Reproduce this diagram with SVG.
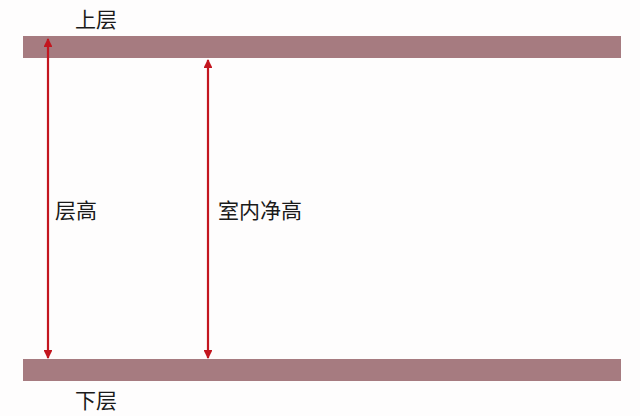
<svg xmlns="http://www.w3.org/2000/svg" width="640" height="416" viewBox="0 0 640 416">
<defs>
<style>
.slab{fill:#a67b80}
.lbl{font-family:"Liberation Sans","Noto Sans CJK SC",sans-serif;font-size:21px;fill:#1a1a1a}
.dim{stroke:#c3161f;stroke-width:2.2;fill:none}
</style>
<marker id="ah" viewBox="0 0 10 10" refX="9" refY="5" markerWidth="4" markerHeight="4" orient="auto-start-reverse">
<path d="M0,0 L10,5 L0,10 z" fill="#c3161f"/>
</marker>
</defs>
<rect width="640" height="416" fill="#fefdfd"/>
<g id="upper">
<rect class="slab" x="23" y="36" width="598" height="22"/>
<text class="lbl" x="75" y="27">上层</text>
</g>
<g id="lower">
<rect class="slab" x="23" y="359" width="598" height="22"/>
<text class="lbl" x="75" y="408">下层</text>
</g>
<g id="connectors">
<line class="dim" x1="48" y1="39" x2="48" y2="358" marker-start="url(#ah)" marker-end="url(#ah)"/>
<line class="dim" x1="208" y1="60" x2="208" y2="358" marker-start="url(#ah)" marker-end="url(#ah)"/>
</g>
<g id="floor-height">
<text class="lbl" x="55" y="218">层高</text>
</g>
<g id="clear-height">
<text class="lbl" x="218" y="218">室内净高</text>
</g>
</svg>
